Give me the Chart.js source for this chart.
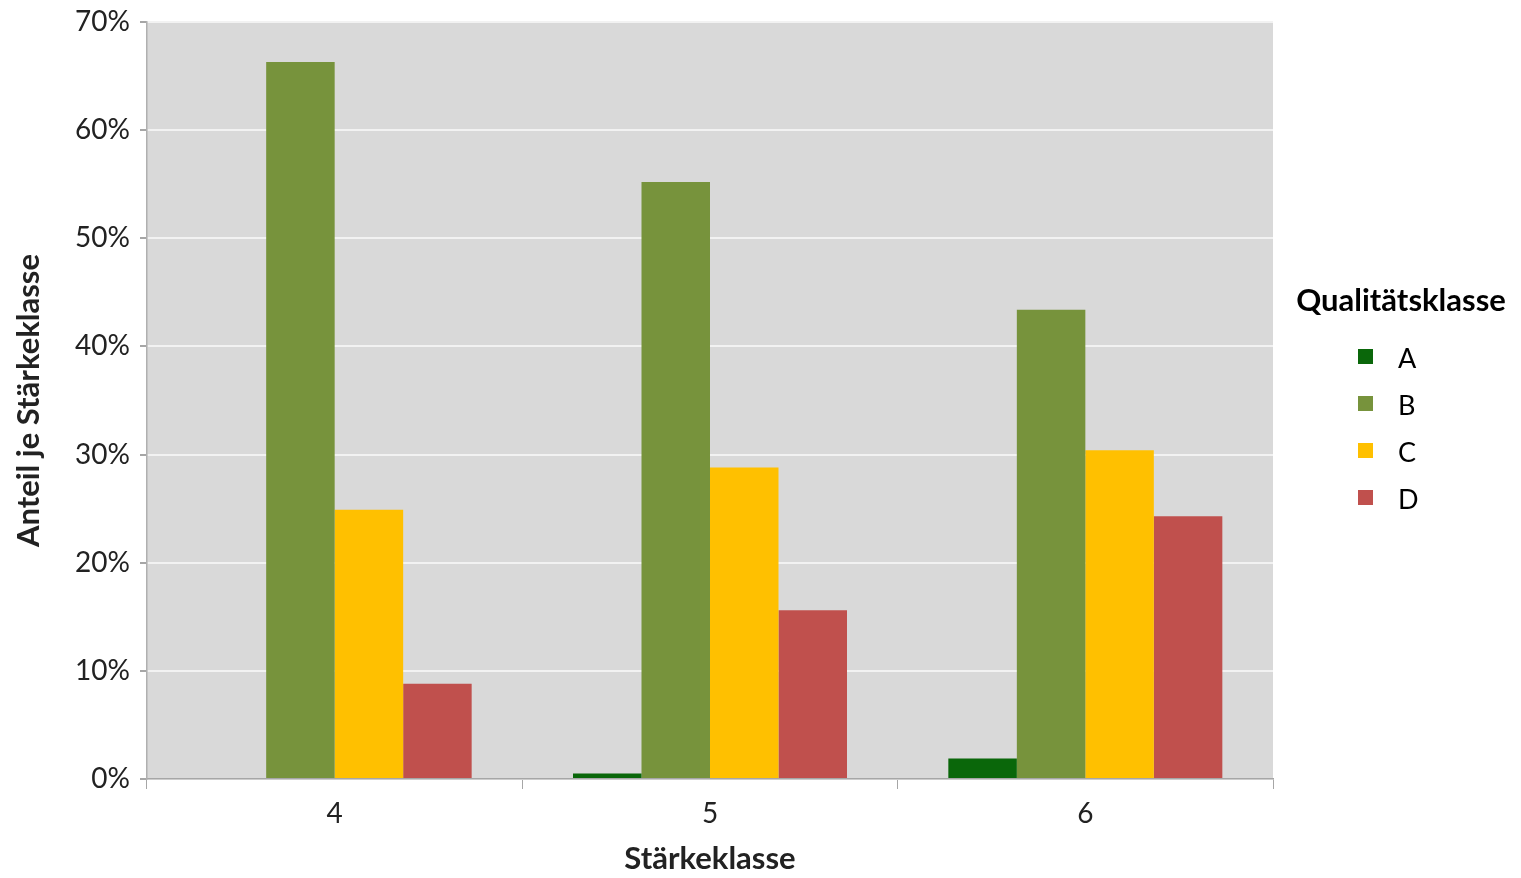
<!DOCTYPE html>
<html lang="de">
<head>
<meta charset="utf-8">
<title>Anteil je Stärkeklasse</title>
<script src="https://cdn.jsdelivr.net/npm/chart.js@4.4.1/dist/chart.umd.min.js"></script>
<style>
    html, body { margin: 0; padding: 0; background: #fff; }
    #wrap { position: relative; width: 1521px; height: 878px; }
    #legend {
        position: absolute; left: 1281px; top: 280px; width: 240px;
        font-family: Lato, "Open Sans", sans-serif; color: #000;
    }
    #legend .title { font-weight: bold; font-size: 31px; text-align: center; width: 240px; }
    #legend .item { position: absolute; left: 77px; height: 30px; font-size: 27px; line-height: 30px; }
    #legend .item span.box { position: absolute; left: 0; top: 7px; width: 15px; height: 15px; }
    #legend .item span.txt { position: absolute; left: 40px; top: 1px; }
</style>
</head>
<body>
<div id="wrap">
    <canvas id="chart" width="1521" height="878"></canvas>
    <div id="legend"></div>
</div>
<script>
// Daten
const staerkeklassen = ['4', '5', '6'];
const qualitaetsklassen = ['A', 'B', 'C', 'D'];
const anteilA = [0, 0.5, 1.9];
const anteilB = [66.3, 55.2, 43.4];
const anteilC = [24.9, 28.8, 30.4];
const anteilD = [8.8, 15.6, 24.3];
const yTicks = [0, 10, 20, 30, 40, 50, 60, 70];
const farben = ['#0a670a', '#77933c', '#ffc000', '#c0504d'];

document.addEventListener('DOMContentLoaded', function() {
    initChart();
    initLegend();
});

function initChart() {
    const ctx = document.getElementById('chart').getContext('2d');
    const werte = [anteilA, anteilB, anteilC, anteilD];

    // Hintergrund der Zeichenfläche grau
    const plotBackground = {
        id: 'plotBackground',
        beforeDraw(chart) {
            const a = chart.chartArea;
            chart.ctx.save();
            chart.ctx.fillStyle = '#d9d9d9';
            chart.ctx.fillRect(a.left, a.top, a.right - a.left, a.bottom - a.top);
            chart.ctx.restore();
        }
    };

    new Chart(ctx, {
        type: 'bar',
        data: {
            labels: staerkeklassen,
            datasets: qualitaetsklassen.map(function(name, i) {
                return {
                    label: name,
                    data: werte[i],
                    backgroundColor: farben[i],
                    borderWidth: 0,
                    barPercentage: 1.0,
                    categoryPercentage: 0.73
                };
            })
        },
        options: {
            responsive: false,
            animation: false,
            layout: { padding: { top: 22, right: 248, left: 0, bottom: 0 } },
            plugins: {
                legend: { display: false },
                tooltip: { enabled: false }
            },
            scales: {
                x: {
                    grid: {
                        display: true,
                        drawOnChartArea: false,
                        offset: true,
                        tickLength: 10,
                        tickColor: '#a6a6a6'
                    },
                    border: { color: '#a6a6a6', width: 1.5 },
                    ticks: {
                        color: '#222',
                        padding: 8,
                        font: { family: 'Lato', size: 28 }
                    },
                    title: {
                        display: true,
                        text: 'Stärkeklasse',
                        color: '#222',
                        padding: { top: 10, bottom: 0 },
                        font: { family: 'Lato', size: 31, weight: 'bold' }
                    },
                    afterFit: function(scale) { scale.height = 99; }
                },
                y: {
                    min: 0,
                    max: 70,
                    afterBuildTicks: function(scale) {
                        scale.ticks = yTicks.map(function(v) { return { value: v }; });
                    },
                    grid: {
                        color: '#f2f2f2',
                        lineWidth: 2,
                        tickLength: 7,
                        tickColor: '#a6a6a6'
                    },
                    border: { color: '#b0b0b0', width: 1.5 },
                    ticks: {
                        color: '#222',
                        padding: 10,
                        font: { family: 'Lato', size: 28 },
                        callback: function(value) { return value + '%'; }
                    },
                    title: {
                        display: true,
                        text: 'Anteil je Stärkeklasse',
                        color: '#222',
                        padding: { top: 10, bottom: 0 },
                        font: { family: 'Lato', size: 31, weight: 'bold' }
                    },
                    afterFit: function(scale) {
                        scale.width = 147;
                        scale.paddingTop = 0;
                        scale.paddingBottom = 0;
                    }
                }
            }
        },
        plugins: [plotBackground]
    });
}

// Legende rechts, aus denselben Arrays aufgebaut
function initLegend() {
    const box = document.getElementById('legend');
    const title = document.createElement('div');
    title.className = 'title';
    title.textContent = 'Qualitätsklasse';
    box.appendChild(title);
    qualitaetsklassen.forEach(function(name, i) {
        const item = document.createElement('div');
        item.className = 'item';
        item.style.top = (62 + i * 47) + 'px';
        item.innerHTML = '<span class="box" style="background:' + farben[i] + '"></span><span class="txt">' + name + '</span>';
        box.appendChild(item);
    });
}
</script>
</body>
</html>
